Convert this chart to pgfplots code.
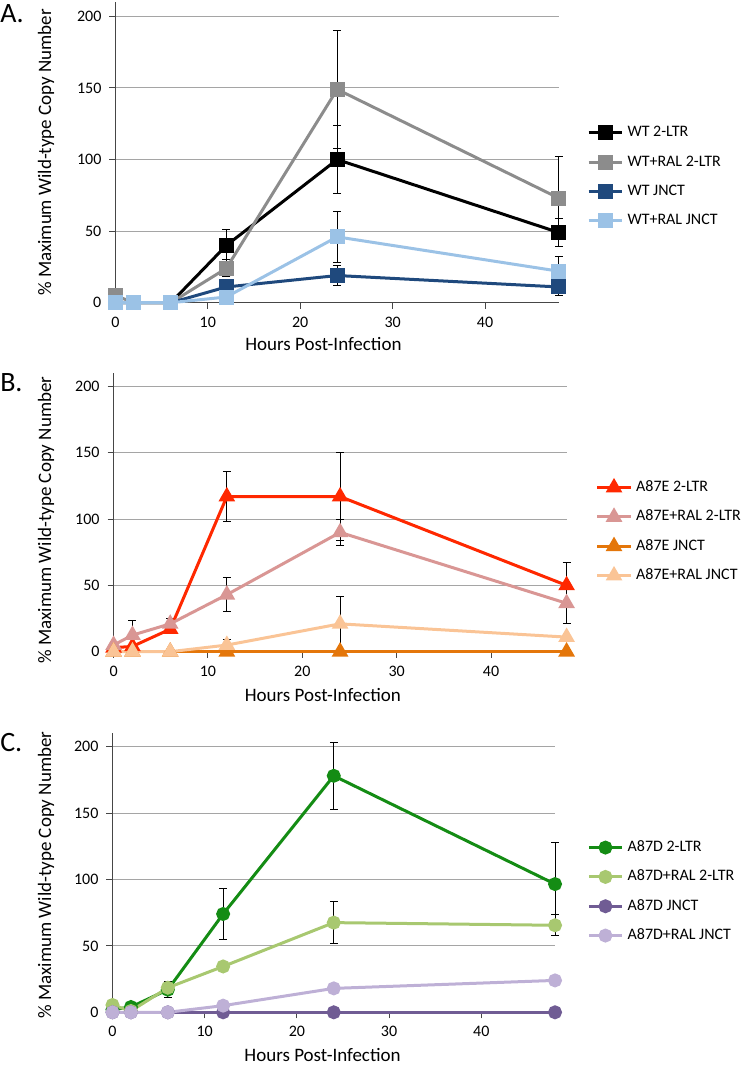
\documentclass[border=0pt]{standalone}
\usepackage{fontspec}
\setmainfont{Carlito}
\usepackage{pgfplots}
\usepackage{pgfplotstable}
\pgfplotsset{compat=1.18}

\definecolor{gridgray}{RGB}{165,165,165}
\definecolor{axisgray}{RGB}{70,70,70}
\definecolor{cA1}{RGB}{0,0,0}
\definecolor{cA2}{RGB}{140,140,140}
\definecolor{cA3}{RGB}{31,73,125}
\definecolor{cA4}{RGB}{155,194,230}
\definecolor{cB1}{RGB}{255,40,0}
\definecolor{cB2}{RGB}{217,150,148}
\definecolor{cB3}{RGB}{228,118,10}
\definecolor{cB4}{RGB}{250,196,150}
\definecolor{cC1}{RGB}{20,140,20}
\definecolor{cC2}{RGB}{168,200,112}
\definecolor{cC3}{RGB}{112,92,148}
\definecolor{cC4}{RGB}{190,176,214}

% x, series a..d with errors
\pgfplotstableread{
x a ae b be c ce d de
0 0 0 5 0 0 0 0 0
2 0 0 0 0 0 0 0 0
6 0 0 0 0 0 0 0 0
12 40 11 24 6 11 4 4 0
24 100 24 149 41 19 7 46 18
48 49 10 73 29 11 6 22 10
}\tabA
\pgfplotstableread{
x a ae b be c ce d de
0 3 0 5 0 0 0 0 0
2 4 0 12.5 11 0 0 0 0
6 17 0 21 4 0 0 0 0
12 117 19 43 13 0 0 5 4
24 117 33 90 10 0 0 21 21
48 50 17 36.5 15 0 0 11 0
}\tabB
\pgfplotstableread{
x a ae b be c ce d de
0 2 0 5.5 0 0 0 0 0
2 4 0 1 0 0 0 0 0
6 17 6 18.5 0 0 0 0 0
12 74 19 34.5 0 0 0 5 0
24 178 25 67.5 16 0 0 18 0
48 96.5 31 65.5 8 0 0 24 0
}\tabC

\pgfplotsset{
  myaxis/.style={
    scale only axis, anchor=origin,
    xmin=0, xmax=48, ymin=0, ymax=210,
    axis x line*=bottom, axis y line*=left,
    xtick={0,10,20,30,40}, ytick={0,50,100,150,200},
    ymajorgrids, major grid style={color=gridgray, line width=0.75pt},
    axis line style={color=axisgray, line width=1.1pt},
    tick align=outside, major tick length=4.5pt,
    tick style={color=axisgray, line width=0.75pt},
    tick label style={font=\fontsize{12}{14}\selectfont},
    xticklabel style={yshift=-2.5pt},
    yticklabel style={xshift=-2.5pt},
    /pgf/number format/assume math mode=true,
    label style={font=\fontsize{14.25}{17}\selectfont},
    xlabel={Hours Post-Infection},
    ylabel={\% Maximum Wild-type Copy Number},
    clip=false,
    legend style={draw=none, fill=none, anchor=north west,
      font=\fontsize{12}{14}\selectfont, inner sep=0pt,
      nodes={inner sep=0pt, text height=9pt, text depth=3pt},
      row sep=10pt, column sep=3pt},
    legend cell align=left,
    legend image code/.code={\draw[##1, mark repeat=2, mark phase=2] plot coordinates {(0pt,0pt) (12.5pt,0pt) (25pt,0pt)};},
  },
  errplot/.style={forget plot, draw=none, mark=none,
    error bars/.cd, y dir=both, y explicit,
    error bar style={draw=black, line width=0.75pt, solid},
    error mark options={draw=black, line width=0.75pt, mark size=3pt, rotate=90}},
  ser/.style={color=#1, line width=2.25pt, mark options={solid, fill=#1, draw=#1}},
}

\begin{document}
\begin{tikzpicture}
\useasboundingbox (0,0) rectangle (556.5pt,798.75pt);
\node[anchor=base west, inner sep=0pt, font=\fontsize{21}{24}\selectfont] at (0pt,781.5pt) {A.};
\node[anchor=base west, inner sep=0pt, font=\fontsize{21}{24}\selectfont] at (0pt,505pt) {B.};
\node[anchor=base west, inner sep=0pt, font=\fontsize{21}{24}\selectfont] at (0pt,235pt) {C.};

% Panel A
\begin{axis}[myaxis, at={(86.55pt,571.7pt)}, width=332.7pt, height=225.5pt,
  xlabel style={at={(axis description cs:0.469,-0.137)}, anchor=center},
  ylabel style={at={(axis description cs:-0.1565,0.5)}, anchor=center},
  legend style={at={(1.063,0.593)}}]
\addplot[errplot] table[x=x, y=a, y error=ae] {\tabA};
\addplot[errplot] table[x=x, y=b, y error=be] {\tabA};
\addplot[errplot] table[x=x, y=c, y error=ce] {\tabA};
\addplot[errplot] table[x=x, y=d, y error=de] {\tabA};
\addplot[ser=cA1, mark=square*, mark size=4.5pt] table[x=x, y=a] {\tabA};
\addplot[ser=cA2, mark=square*, mark size=4.5pt] table[x=x, y=b] {\tabA};
\addplot[ser=cA3, mark=square*, mark size=4.5pt] table[x=x, y=c] {\tabA};
\addplot[ser=cA4, mark=square*, mark size=4.5pt] table[x=x, y=d] {\tabA};
\legend{WT 2-LTR, WT+RAL 2-LTR, WT JNCT, WT+RAL JNCT}
\end{axis}

% Panel B
\begin{axis}[myaxis, at={(85.2pt,309.98pt)}, width=339.75pt, height=208.8pt,
  xlabel style={at={(axis description cs:0.462,-0.154)}, anchor=center},
  ylabel style={at={(axis description cs:-0.149,0.473)}, anchor=center},
  legend style={at={(1.064,0.619)}}]
\addplot[errplot] table[x=x, y=a, y error=ae] {\tabB};
\addplot[errplot] table[x=x, y=b, y error=be] {\tabB};
\addplot[errplot] table[x=x, y=c, y error=ce] {\tabB};
\addplot[errplot] table[x=x, y=d, y error=de] {\tabB};
\addplot[ser=cB1, mark=triangle*, mark size=5pt] table[x=x, y=a] {\tabB};
\addplot[ser=cB2, mark=triangle*, mark size=5pt] table[x=x, y=b] {\tabB};
\addplot[ser=cB3, mark=triangle*, mark size=5pt] table[x=x, y=c] {\tabB};
\addplot[ser=cB4, mark=triangle*, mark size=5pt] table[x=x, y=d] {\tabB};
\legend{A87E 2-LTR, A87E+RAL 2-LTR, A87E JNCT, A87E+RAL JNCT}
\end{axis}

% Panel C
\begin{axis}[myaxis, at={(84.375pt,39.525pt)}, width=331.9pt, height=209.25pt,
  xlabel style={at={(axis description cs:0.4746,-0.153)}, anchor=center},
  ylabel style={at={(axis description cs:-0.150,0.492)}, anchor=center},
  legend style={at={(1.0723,0.620)}}]
\addplot[errplot] table[x=x, y=a, y error=ae] {\tabC};
\addplot[errplot] table[x=x, y=b, y error=be] {\tabC};
\addplot[errplot] table[x=x, y=c, y error=ce] {\tabC};
\addplot[errplot] table[x=x, y=d, y error=de] {\tabC};
\addplot[ser=cC1, mark=*, mark size=4.1pt] table[x=x, y=a] {\tabC};
\addplot[ser=cC2, mark=*, mark size=4.1pt] table[x=x, y=b] {\tabC};
\addplot[ser=cC3, mark=*, mark size=4.1pt] table[x=x, y=c] {\tabC};
\addplot[ser=cC4, mark=*, mark size=4.1pt] table[x=x, y=d] {\tabC};
\legend{A87D 2-LTR, A87D+RAL 2-LTR, A87D JNCT, A87D+RAL JNCT}
\end{axis}
\end{tikzpicture}
\end{document}
